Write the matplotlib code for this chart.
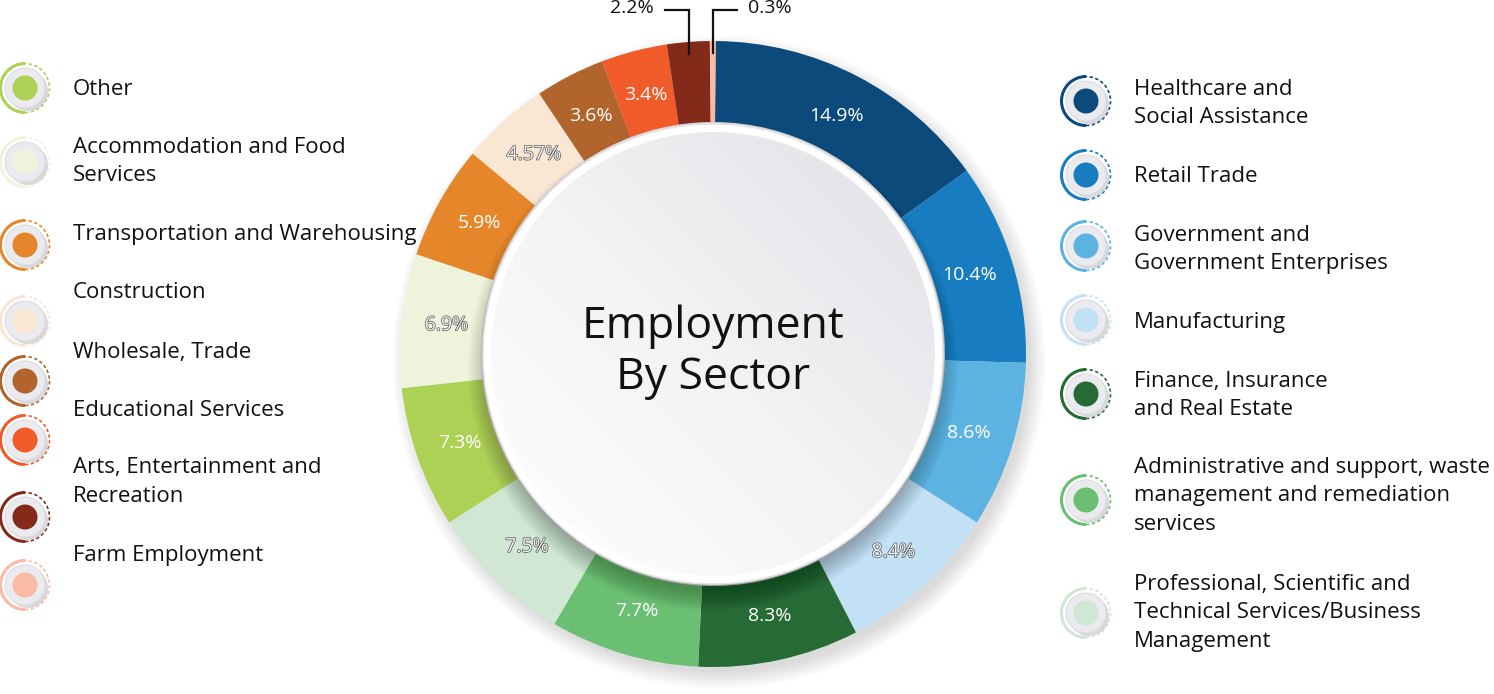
import numpy as np
import matplotlib.pyplot as plt
from matplotlib.patches import Circle, Arc
import matplotlib.patheffects as pe

plt.rcParams['font.family'] = ['Open Sans', 'DejaVu Sans']

W, H = 1494, 694

# data, in legend order (clockwise from the top of the ring)
sectors = ['Healthcare and\nSocial Assistance', 'Retail Trade',
           'Government and\nGovernment Enterprises', 'Manufacturing',
           'Finance, Insurance\nand Real Estate',
           'Administrative and support, waste\nmanagement and remediation\nservices',
           'Professional, Scientific and\nTechnical Services/Business\nManagement',
           'Other', 'Accommodation and Food\nServices', 'Transportation and Warehousing',
           'Construction', 'Wholesale, Trade', 'Educational Services',
           'Arts, Entertainment and\nRecreation', 'Farm Employment']
shares = [14.9, 10.4, 8.6, 8.4, 8.3, 7.7, 7.5, 7.3, 6.9, 5.9, 4.57, 3.6, 3.4, 2.2, 0.3]
pct_labels = ['14.9%', '10.4%', '8.6%', '8.4%', '8.3%', '7.7%', '7.5%', '7.3%',
              '6.9%', '5.9%', '4.57%', '3.6%', '3.4%', '2.2%', '0.3%']
colors = ['#0b4a7a', '#187dc0', '#5cb3e2', '#c3e1f4', '#266b35', '#6abf73', '#cfe7d3',
          '#acd155', '#eef4dc', '#e6862a', '#f9e6d3', '#b1642c', '#f15b2a', '#842a1a', '#f9bba6']
hollow = [False, False, False, True, False, False, True, False, True, False, True,
          False, False, False, False]
outside = [False] * 13 + [True, True]

# layout (pixels, image coordinates)
CX, CY = 713, 354
R_OUT, R_IN = 313, 232
right_icon_y = [101, 175, 246, 320, 394, 500, 613]
right_text_y = [103.5, 176, 249.5, 322, 395.5, 496, 613]
left_icon_y = [88, 162, 245, 321, 381, 440, 517, 585]
left_text_y = [89, 161.5, 234, 292, 352, 410, 482, 556]

fig = plt.figure(figsize=(W / 100, H / 100), dpi=100)
ax = fig.add_axes([0, 0, 1, 1])

def Y(y):
    return H - y

cy = Y(CY)

# soft shadow under the ring
for k in range(18):
    ax.add_patch(Circle((CX + 6, cy - 8), R_OUT + 14 - k, color='#000000', alpha=0.006, lw=0))

wedges, _ = ax.pie(shares, colors=colors, startangle=89.5, counterclock=False,
                   center=(CX, cy), radius=R_OUT,
                   wedgeprops=dict(width=R_OUT - R_IN, linewidth=0))

# shadow of the centre disc on the ring
for k in range(22):
    ax.add_patch(Circle((CX, cy - 12), 224 + k, color='#000000', alpha=0.013, lw=0))

# centre disc: white rim + gradient fill
ax.add_patch(Circle((CX, cy), 230, facecolor='white', edgecolor='#e4e4e6', lw=1.2))
r_disc = 222
gx, gy = np.meshgrid(np.linspace(0, 1, 200), np.linspace(0, 1, 200))
grad = (gx + gy) / 2
img = ax.imshow(grad, cmap=plt.matplotlib.colors.LinearSegmentedColormap.from_list(
                    'g', ['#ffffff', '#f3f3f5', '#e0e0e6']),
                extent=[CX - r_disc, CX + r_disc, cy - r_disc, cy + r_disc],
                origin='lower', zorder=3, interpolation='bilinear')
clip = Circle((CX, cy), r_disc, transform=ax.transData)
img.set_clip_path(clip)

ax.text(CX, Y(352), 'Employment\nBy Sector', fontsize=32, ha='center', va='center',
        linespacing=1.2, color='#111111', zorder=5)

# percentage labels
for w, lab, hol, out in zip(wedges, pct_labels, hollow, outside):
    mid = np.deg2rad((w.theta1 + w.theta2) / 2)
    if out:
        xm = CX + 301 * np.cos(mid)
        ym = cy + 301 * np.sin(mid)
        top = Y(10)
        side = -1 if lab == '2.2%' else 1
        ax.plot([xm, xm, xm + side * 24], [ym, top, top], color='#111111', lw=1.6,
                solid_joinstyle='miter', zorder=6)
        ax.text(xm + side * 35, top + 2, lab, fontsize=14, color='#111111',
                ha='right' if side < 0 else 'left', va='center', zorder=6)
        continue
    x = CX + 268 * np.cos(mid)
    y = cy + 268 * np.sin(mid)
    if hol:
        ax.text(x, y, lab, fontsize=14, color='#f2f2f2', ha='center', va='center', zorder=6,
                path_effects=[pe.withStroke(linewidth=1.0, foreground='#555555')])
    else:
        ax.text(x, y, lab, fontsize=14, color='white', ha='center', va='center', zorder=6)

def icon(x, y, c):
    yy = Y(y)
    ax.add_patch(Arc((x, yy), 49, 49, theta1=90, theta2=270, color=c, lw=2.2, zorder=4))
    ax.add_patch(Arc((x, yy), 49, 49, theta1=270, theta2=450, color=c, lw=1.2,
                     ls=(0, (2, 1.5)), zorder=4))
    ax.add_patch(Circle((x + 3, yy - 3), 20, color='#b9b9c0', alpha=0.55, lw=0, zorder=4))
    ax.add_patch(Circle((x, yy), 20, facecolor='#ebebef', edgecolor='#dcdce1', lw=0.8, zorder=4))
    ax.add_patch(Circle((x, yy), 12.5, color=c, lw=0, zorder=5))

for i in range(7):
    icon(1086, right_icon_y[i], colors[i])
    ax.text(1134, Y(right_text_y[i]), sectors[i], fontsize=16, ha='left', va='center',
            linespacing=1.45, color='#111111')
for j in range(8):
    i = j + 7
    icon(25, left_icon_y[j], colors[i])
    ax.text(73, Y(left_text_y[j]), sectors[i], fontsize=16, ha='left', va='center',
            linespacing=1.45, color='#111111')

ax.set_xlim(0, W)
ax.set_ylim(0, H)
ax.set_aspect('auto')
ax.axis('off')
fig.savefig('out.png', dpi=100, facecolor='white')
